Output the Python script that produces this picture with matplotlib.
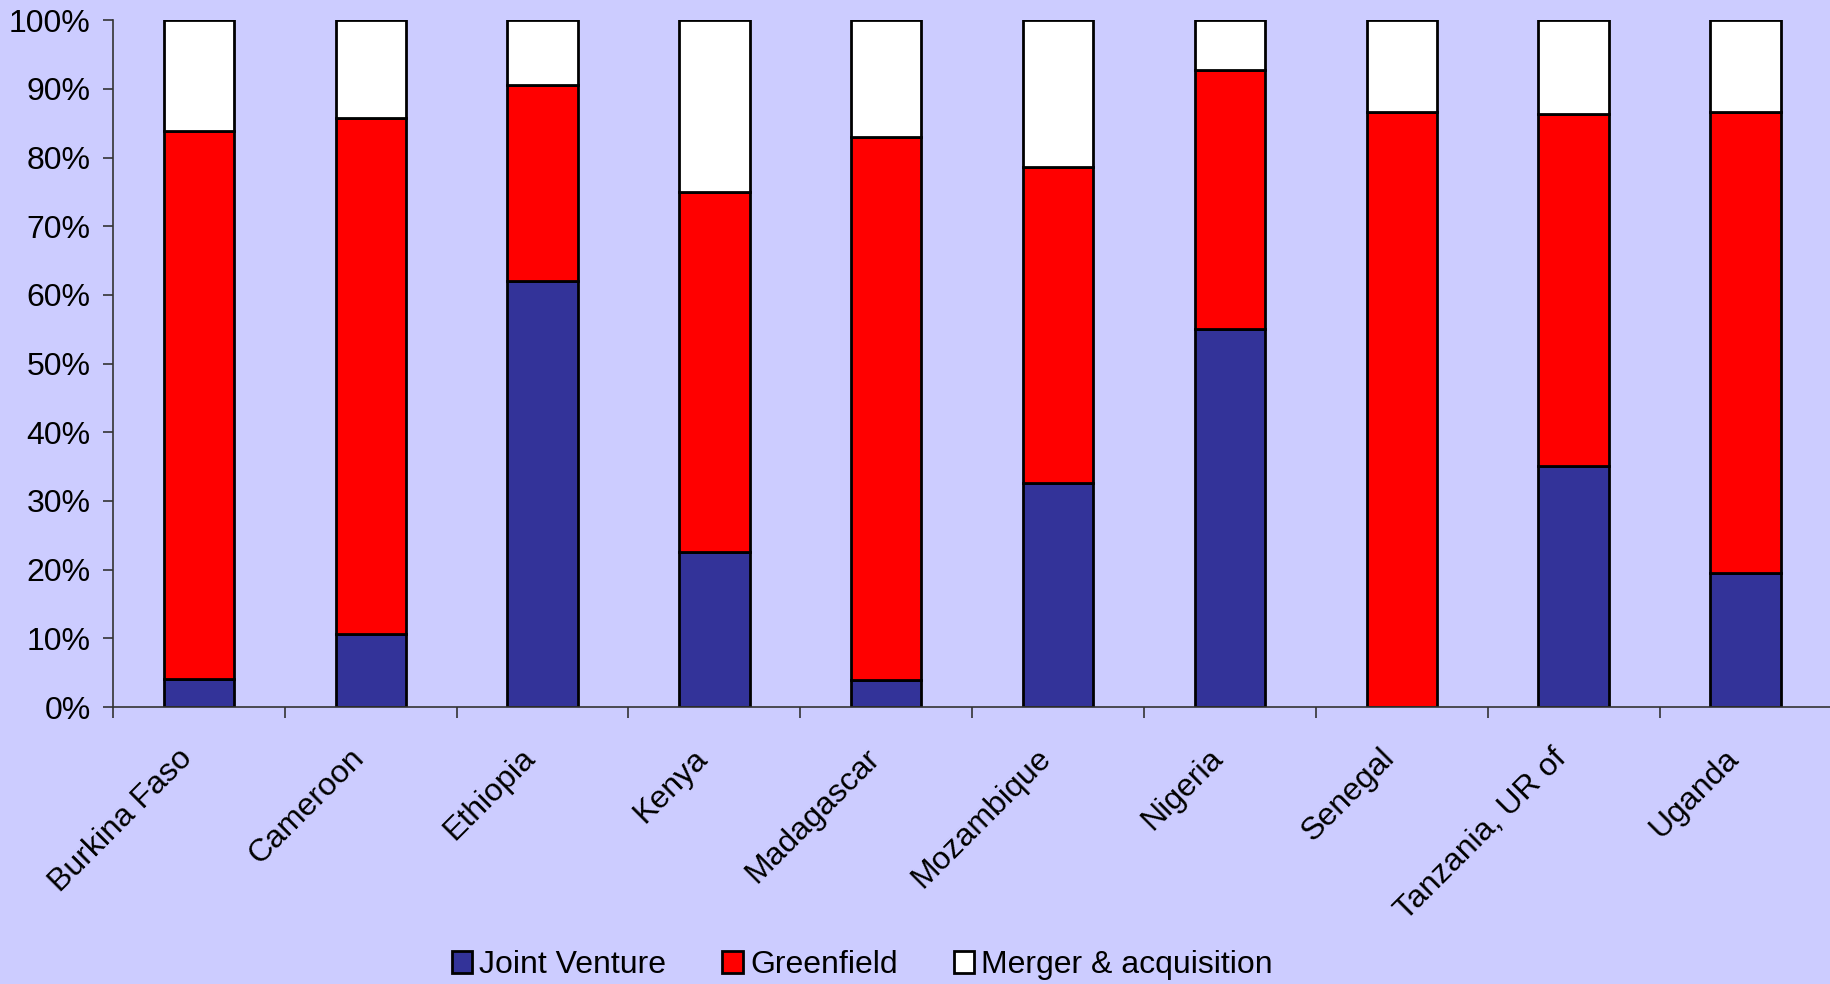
import matplotlib
matplotlib.use("Agg")
import matplotlib.pyplot as plt
import matplotlib.ticker as mticker
import matplotlib.transforms as mtransforms
import numpy as np

plt.rcParams['font.family'] = ['Liberation Sans', 'DejaVu Sans']

# Shares of FDI projects by entry mode (percent)
countries = ['Burkina Faso', 'Cameroon', 'Ethiopia', 'Kenya', 'Madagascar',
             'Mozambique', 'Nigeria', 'Senegal', 'Tanzania, UR of', 'Uganda']
joint_venture = [4.1, 10.7, 62.0, 22.6, 3.9, 32.6, 55.0, 0.0, 35.1, 19.5]
greenfield = [79.8, 75.0, 28.5, 52.4, 79.1, 46.0, 37.7, 86.6, 51.3, 67.1]
merger_acq = [16.1, 14.3, 9.5, 25.0, 17.0, 21.4, 7.3, 13.4, 13.6, 13.4]

bg = '#CCCCFF'
fig = plt.figure(figsize=(18.31, 9.84), dpi=100, facecolor=bg)
ax = fig.add_axes([0.0617, 0.2815, 0.9385, 0.698])
ax.set_facecolor(bg)

x = np.arange(len(countries))
jv = np.array(joint_venture)
gf = np.array(greenfield)
ma = np.array(merger_acq)
w = 0.41
ax.bar(x, jv, w, color='#333399', edgecolor='black', linewidth=2, label='Joint Venture')
ax.bar(x, gf, w, bottom=jv, color='#FF0000', edgecolor='black', linewidth=2, label='Greenfield')
ax.bar(x, ma, w, bottom=jv + gf, color='white', edgecolor='black', linewidth=2,
       label='Merger & acquisition')

ax.set_xlim(-0.5, len(countries) - 0.5)
ax.set_ylim(0, 100)
ax.yaxis.set_major_locator(mticker.MultipleLocator(10))
ax.yaxis.set_major_formatter(mticker.FuncFormatter(lambda v, p: f'{v:.0f}%'))

ax.set_xticks(x)
ax.set_xticklabels(countries, rotation=45, ha='right', rotation_mode='anchor')
ax.set_xticks(np.arange(-0.5, len(countries)), minor=True)
ax.tick_params(axis='x', which='major', length=0, pad=26, labelsize=23)
ax.tick_params(axis='x', which='minor', length=8, width=1.2, color='#333333')
ax.tick_params(axis='y', length=7, width=1.2, color='#333333', labelsize=23, pad=9)

# shift the rotated country labels a little to the left, like the original
shift = mtransforms.ScaledTranslation(-0.22, 0, fig.dpi_scale_trans)
for lbl in ax.get_xticklabels():
    lbl.set_transform(lbl.get_transform() + shift)

for s in ['top', 'right']:
    ax.spines[s].set_visible(False)
for s in ['left', 'bottom']:
    ax.spines[s].set_color('#333333')
    ax.spines[s].set_linewidth(1.2)

fig.legend(loc='center', bbox_to_anchor=(0.471, 0.019), ncol=3, frameon=False,
           fontsize=23, handlelength=0.65, handleheight=0.65, handletextpad=0.22,
           columnspacing=1.75, borderpad=0)

fig.savefig('out.png', dpi=100, facecolor=bg)
